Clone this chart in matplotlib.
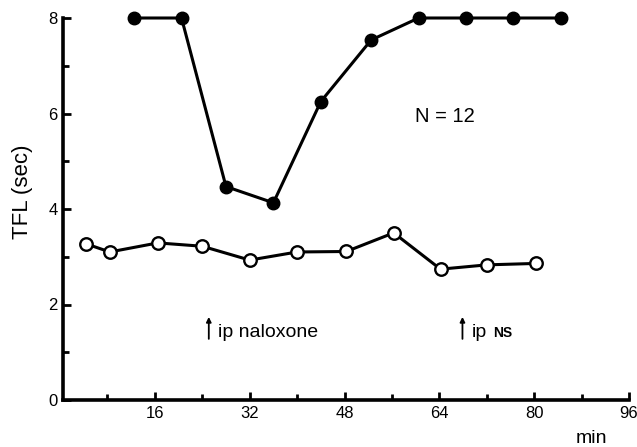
import matplotlib
matplotlib.use("Agg")
import matplotlib.pyplot as plt
from matplotlib.ticker import MultipleLocator

# naloxone group (filled) - TFL in sec vs time in min
filled_t = [12.5, 20.5, 28, 36, 44, 52.5, 60.5, 68.5, 76.5, 84.5]
filled_tfl = [8.0, 8.0, 4.47, 4.13, 6.25, 7.54, 8.0, 8.0, 8.0, 8.0]

# control group (open)
open_t = [4.4, 8.4, 16.5, 24, 32, 40, 48.3, 56.3, 64.2, 72, 80.3]
open_tfl = [3.27, 3.10, 3.29, 3.22, 2.93, 3.10, 3.11, 3.50, 2.74, 2.83, 2.86]

x_ticks = [16, 32, 48, 64, 80, 96]
y_ticks = [0, 2, 4, 6, 8]

plt.rcParams['font.family'] = ['Liberation Sans', 'DejaVu Sans']

fig = plt.figure(figsize=(6.37, 4.47), dpi=100)
ax = fig.add_axes([63 / 637, 1 - 400 / 447, 566 / 637, 382 / 447])

ax.plot(open_t, open_tfl, color='black', lw=2.2, marker='o', ms=9,
        mfc='white', mec='black', mew=1.7, clip_on=False, zorder=3)
ax.plot(filled_t, filled_tfl, color='black', lw=2.2, marker='o', ms=9,
        mfc='black', mec='black', clip_on=False, zorder=3)

ax.set_xlim(0.5, 96)
ax.set_ylim(0, 8)
ax.set_xticks(x_ticks)
ax.set_yticks(y_ticks)
ax.xaxis.set_minor_locator(MultipleLocator(8))
ax.yaxis.set_minor_locator(MultipleLocator(1))

for side in ['top', 'right']:
    ax.spines[side].set_visible(False)
for side in ['left', 'bottom']:
    ax.spines[side].set_linewidth(2.6)

ax.tick_params(which='major', direction='in', length=6, width=2, labelsize=12, pad=4)
ax.tick_params(which='minor', direction='in', length=4.5, width=2)
ax.tick_params(axis='x', which='minor', labelbottom=False)

ax.set_ylabel('TFL (sec)', fontsize=16)
ax.yaxis.set_label_coords(-0.053, 0.545)

ax.text(89.7, -0.1, 'min', transform=ax.get_xaxis_transform(),
        fontsize=14, ha='center', va='center')

ax.text(65, 5.93, 'N = 12', fontsize=14.5, ha='center', va='center')

# injection markers
ax.annotate('', xy=(25.1, 1.74), xytext=(25.1, 1.28),
            arrowprops=dict(arrowstyle='-|>', color='black', lw=1.3,
                            mutation_scale=7, shrinkA=0, shrinkB=0))
ax.text(26.6, 1.42, 'ip naloxone', fontsize=14, ha='left', va='center')

ax.annotate('', xy=(67.9, 1.74), xytext=(67.9, 1.28),
            arrowprops=dict(arrowstyle='-|>', color='black', lw=1.3,
                            mutation_scale=7, shrinkA=0, shrinkB=0))
ax.text(69.4, 1.42, 'ip', fontsize=14, ha='left', va='center')
ax.text(73.0, 1.40, 'NS', fontsize=10, fontweight='bold', ha='left', va='center')

fig.savefig('out.png', dpi=100, facecolor='white')
